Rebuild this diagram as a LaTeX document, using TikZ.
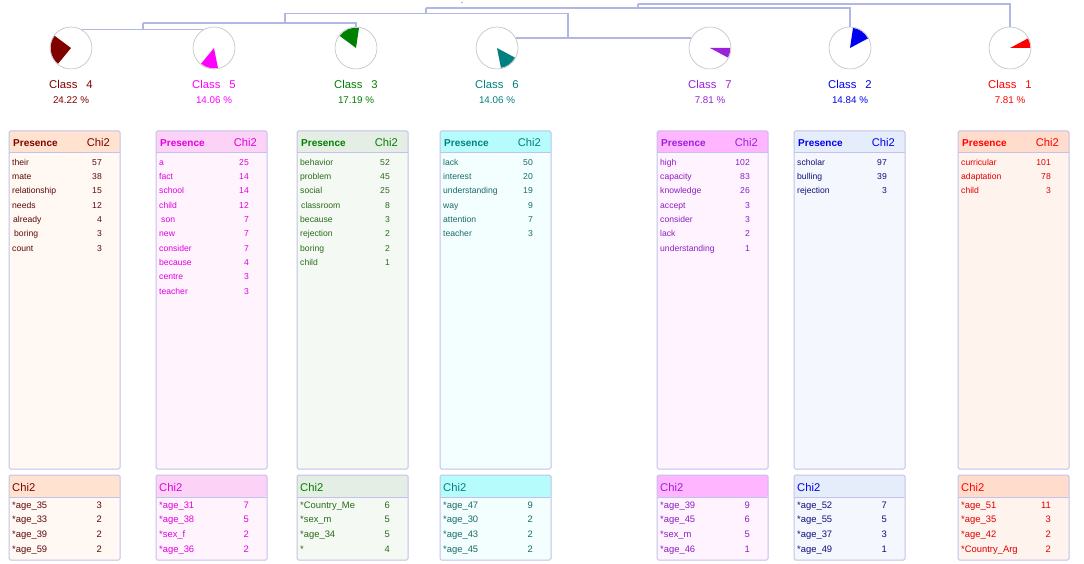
\documentclass[tikz,border=0pt]{standalone}
\usepackage{fontspec}
\setmainfont{Liberation Sans}
\definecolor{dendc}{HTML}{B2B6E2}
\definecolor{boxc}{HTML}{C2C2EA}
\definecolor{kfour}{HTML}{800000}
\definecolor{kfive}{HTML}{FF00FF}
\definecolor{kthree}{HTML}{008000}
\definecolor{ksix}{HTML}{008080}
\definecolor{kseven}{HTML}{9A22D8}
\definecolor{ktwo}{HTML}{0000F0}
\definecolor{kone}{HTML}{FF0000}
\definecolor{rfour}{HTML}{5C0A0A}
\definecolor{rfive}{HTML}{E000E0}
\definecolor{rthree}{HTML}{2A6A1A}
\definecolor{rsix}{HTML}{1A6A6A}
\definecolor{rseven}{HTML}{8A20C0}
\definecolor{rtwo}{HTML}{10107A}
\definecolor{rone}{HTML}{E00000}
\definecolor{hfour}{HTML}{FFE3D0}\definecolor{bfour}{HTML}{FFF8F3}
\definecolor{hfive}{HTML}{FCD3F6}\definecolor{bfive}{HTML}{FFF4FD}
\definecolor{hthree}{HTML}{E4EEE4}\definecolor{bthree}{HTML}{F4F9F4}
\definecolor{hsix}{HTML}{B6FCFC}\definecolor{bsix}{HTML}{F3FEFE}
\definecolor{hseven}{HTML}{FFB5FF}\definecolor{bseven}{HTML}{FFF3FF}
\definecolor{htwo}{HTML}{E6EDFA}\definecolor{btwo}{HTML}{F4F7FE}
\definecolor{hone}{HTML}{FFDCCB}\definecolor{bone}{HTML}{FFF3EE}
\newcommand\mycol[5]{% #1 id, #2 left, #3 head fill, #4 body fill, #5 head text
  \fill[#4,rounded corners=1.5pt] (#2,131) rectangle ++(111,338);
  \fill[#3,rounded corners=1.5pt] (#2,131) rectangle ++(111,22);
  \draw[boxline] (#2,153) -- ++(111,0);
  \draw[boxline,rounded corners=1.5pt] (#2,131) rectangle ++(111,338);
  \node[hdr,text=#5] (ph#1) at (#2+4,146.6) {Presence};
  \node[hdrc,text=#5] (pc#1) at (#2+101,146.8) {Chi2};
  \fill[#4,rounded corners=1.5pt] (#2,475) rectangle ++(111,85);
  \fill[#3,rounded corners=1.5pt] (#2,475) rectangle ++(111,22);
  \draw[boxline] (#2,497) -- ++(111,0);
  \draw[boxline,rounded corners=1.5pt] (#2,475) rectangle ++(111,85);
  \node[hdrb,text=#5] (bc#1) at (#2+3,491) {Chi2};
}
\newcommand\myrows[4]{% #1 id, #2 left, #3 colour, #4 list
  \foreach \w/\n [count=\i from 0] in {#4} {
    \node[roww,text=#3] (rw#1-\i) at (#2+3,{165.3+14.3*\i}) {\w};
    \node[rown,text=#3] (rn#1-\i) at (#2+93,{165.3+14.3*\i}) {\n};
  }}
\newcommand\mybrows[4]{%
  \foreach \w/\n [count=\i from 0] in {#4} {
    \node[rowb,text=#3] (bw#1-\i) at (#2+3,{508+14.8*\i}) {\w};
    \node[rowbn,text=#3] (bn#1-\i) at (#2+93,{508+14.8*\i}) {\n};
  }}
\newcommand\myclass[6]{% #1 id, #2 x, #3 colour, #4 pct, #5 start, #6 end
  \node[ring] (c#1) at (#2,48) {};
  \fill[#3] (c#1.center) -- ++(-#5:20.3) arc[start angle=-#5, end angle=-#6, radius=20.3] -- cycle;
  \node[clab,text=#3] (l#1) at (#2,89) {Class\hspace{9pt}#1};
  \node[plab,text=#3] (p#1) at (#2,104) {#4 \%};
}
\begin{document}
\begin{tikzpicture}[x=1pt,y=-1pt,
  dend/.style={draw=dendc, line width=1.2pt},
  ring/.style={circle, draw=gray!50, line width=0.6pt, minimum size=42pt, inner sep=0pt},
  boxline/.style={draw=boxc, line width=1pt},
  hdr/.style={font=\fontsize{10}{12}\selectfont\bfseries, anchor=base west, inner sep=0pt},
  hdrc/.style={font=\fontsize{11.2}{13}\selectfont, anchor=base east, inner sep=0pt},
  hdrb/.style={font=\fontsize{11.2}{13}\selectfont, anchor=base west, inner sep=0pt},
  roww/.style={font=\fontsize{8.6}{10}\selectfont, anchor=base west, inner sep=0pt},
  rown/.style={font=\fontsize{8.6}{10}\selectfont, anchor=base east, inner sep=0pt},
  rowb/.style={font=\fontsize{9.4}{11}\selectfont, anchor=base west, inner sep=0pt},
  rowbn/.style={font=\fontsize{9.4}{11}\selectfont, anchor=base east, inner sep=0pt},
  clab/.style={font=\fontsize{11.3}{13}\selectfont, anchor=base, inner sep=0pt},
  plab/.style={font=\fontsize{9.8}{12}\selectfont, anchor=base, inner sep=0pt}
]
\useasboundingbox (0,0) rectangle (1084,564);
\fill[white] (0,0) rectangle (1084,564);

% classes
\myclass{4}{71}{kfour}{24.22}{143.4}{230.6}
\myclass{5}{214}{kfive}{14.06}{230.6}{281.2}
\myclass{3}{356}{kthree}{17.19}{81.5}{143.4}
\myclass{6}{497}{ksix}{14.06}{281.2}{331.8}
\myclass{7}{710}{kseven}{7.81}{331.8}{360}
\myclass{2}{850}{ktwo}{14.84}{28.1}{81.5}
\myclass{1}{1010}{kone}{7.81}{0}{28.1}

% dendrogram
\coordinate (jA) at (143,30);  \coordinate (tA) at (143,23);
\coordinate (jB) at (285,23);  \coordinate (tB) at (285,13.5);
\coordinate (jC) at (568,38.1);\coordinate (tC) at (568,13.5);
\coordinate (jD) at (426,13.5);\coordinate (tD) at (426,8);
\coordinate (jE) at (638,8);   \coordinate (tE) at (638,4);
\coordinate (root) at (462,2.6);
\draw[dend] (c4.59) -- (c5.121);
\draw[dend] (jA) -- (tA);
\draw[dend] (tA) -| (c3.north);
\draw[dend] (jB) -- (tB);
\draw[dend] (c6.28) -- (c7.152);
\draw[dend] (jC) -- (tC);
\draw[dend] (tB) -- (tC);
\draw[dend] (jD) -- (tD);
\draw[dend] (tD) -| (c2.north);
\draw[dend] (jE) -- (tE);
\draw[dend] (tE) -| (c1.north);
\fill[dendc!80!gray] (root) circle (0.9);

% columns
\mycol{4}{9}{hfour}{bfour}{kfour}
\myrows{4}{9}{rfour}{their/57, mate/38, relationship/15, needs/12, \hspace{1pt}already/4, \hspace{2pt}boring/3, count/3}
\mybrows{4}{9}{rfour}{*age\_35/3, *age\_33/2, *age\_39/2, *age\_59/2}

\mycol{5}{156}{hfive}{bfive}{rfive}
\myrows{5}{156}{rfive}{a/25, fact/14, school/14, child/12, \hspace{2pt}son/7, new/7, consider/7, because/4, centre/3, teacher/3}
\mybrows{5}{156}{rfive}{*age\_31/7, *age\_38/5, *sex\_f/2, *age\_36/2}

\mycol{3}{297}{hthree}{bthree}{kthree}
\myrows{3}{297}{rthree}{behavior/52, problem/45, social/25, \hspace{1pt}classroom/8, because/3, rejection/2, boring/2, child/1}
\mybrows{3}{297}{rthree}{*Country\_Me/6, *sex\_m/5, *age\_34/5, */4}

\mycol{6}{440}{hsix}{bsix}{ksix}
\myrows{6}{440}{rsix}{lack/50, interest/20, understanding/19, way/9, attention/7, teacher/3}
\mybrows{6}{440}{rsix}{*age\_47/9, *age\_30/2, *age\_43/2, *age\_45/2}

\mycol{7}{657}{hseven}{bseven}{kseven}
\myrows{7}{657}{rseven}{high/102, capacity/83, knowledge/26, accept/3, consider/3, lack/2, understanding/1}
\mybrows{7}{657}{rseven}{*age\_39/9, *age\_45/6, *sex\_m/5, *age\_46/1}

\mycol{2}{794}{htwo}{btwo}{ktwo}
\myrows{2}{794}{rtwo}{scholar/97, bulling/39, rejection/3}
\mybrows{2}{794}{rtwo}{*age\_52/7, *age\_55/5, *age\_37/3, *age\_49/1}

\mycol{1}{958}{hone}{bone}{kone}
\myrows{1}{958}{rone}{curricular/101, adaptation/78, child/3}
\mybrows{1}{958}{rone}{*age\_51/11, *age\_35/3, *age\_42/2, *Country\_Arg/2}
\end{tikzpicture}
\end{document}
